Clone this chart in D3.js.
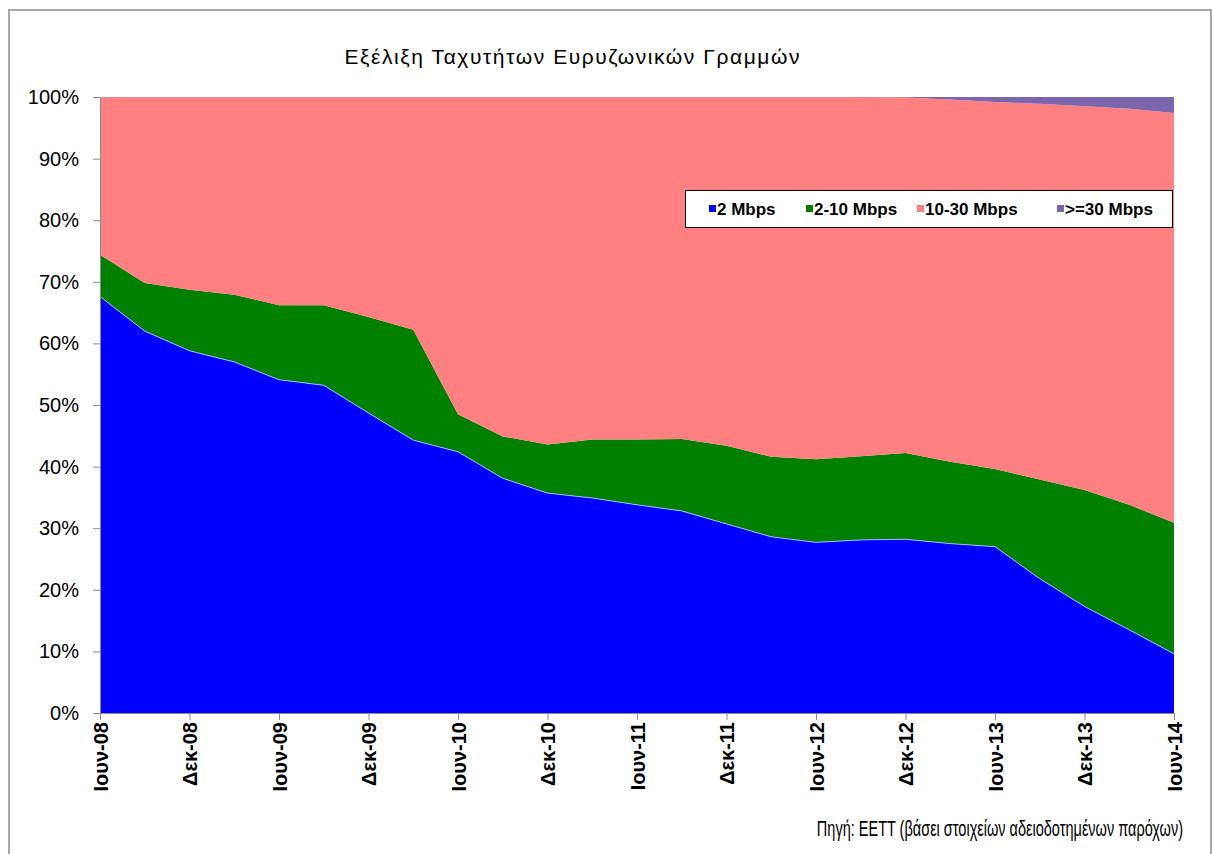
<!DOCTYPE html>
<html lang="el">
<head>
	<meta charset="utf-8">
	<title>Εξέλιξη Ταχυτήτων Ευρυζωνικών Γραμμών</title>
	<script src="https://d3js.org/d3.v7.min.js"></script>
	<style type="text/css">
		body {
			margin: 0;
			background-color: #fff;
		}
		svg {
			display: block;
		}
	</style>
</head>
<body>
	<script type="text/javascript">

		//Quarters (every second one gets a label on the axis)
		var quarters = ["Ιουν-08", "Σεπ-08", "Δεκ-08", "Μαρ-09", "Ιουν-09", "Σεπ-09", "Δεκ-09", "Μαρ-10",
			"Ιουν-10", "Σεπ-10", "Δεκ-10", "Μαρ-11", "Ιουν-11", "Σεπ-11", "Δεκ-11", "Μαρ-12",
			"Ιουν-12", "Σεπ-12", "Δεκ-12", "Μαρ-13", "Ιουν-13", "Σεπ-13", "Δεκ-13", "Μαρ-14", "Ιουν-14"];

		//Share of lines per speed class (%)
		var mbps2 = [67.6, 62.0, 58.8, 57.0, 54.1, 53.2, 48.7, 44.3, 42.4, 38.1, 35.7, 34.9, 33.8,
			32.8, 30.7, 28.6, 27.7, 28.1, 28.2, 27.5, 27.0, 21.8, 17.3, 13.5, 9.6];
		var mbps2to10 = [6.8, 7.8, 9.9, 10.9, 12.1, 13.0, 15.6, 17.9, 6.1, 6.8, 7.9, 9.5, 10.6,
			11.7, 12.7, 13.0, 13.5, 13.6, 14.0, 13.3, 12.6, 16.1, 18.9, 20.3, 21.3];
		var mbps10to30 = [25.6, 30.2, 31.3, 32.1, 33.8, 33.8, 35.7, 37.8, 51.5, 55.1, 56.4, 55.6, 55.6,
			55.5, 56.6, 58.4, 58.8, 58.3, 57.7, 58.8, 59.6, 61.0, 62.3, 64.3, 66.5];
		var mbps30plus = [0, 0, 0, 0, 0, 0, 0, 0, 0, 0, 0, 0, 0,
			0, 0, 0, 0, 0, 0.1, 0.4, 0.8, 1.1, 1.5, 1.9, 2.6];

		var seriesNames = ["2 Mbps", "2-10 Mbps", "10-30 Mbps", ">=30 Mbps"];
		var colors = ["#0000ff", "#008000", "#ff8080", "#7b66ad"];
		var yTicks = [0, 0.1, 0.2, 0.3, 0.4, 0.5, 0.6, 0.7, 0.8, 0.9, 1];

		//Width and height
		var w = 1212;
		var h = 854;
		var margin = { left: 100, right: 38, top: 97, bottom: 141 };

		var rows = quarters.map(function(q, i) {
			return { q: q, a: mbps2[i], b: mbps2to10[i], c: mbps10to30[i], d: mbps30plus[i] };
		});

		var stack = d3.stack()
			.keys(["a", "b", "c", "d"])
			.offset(d3.stackOffsetExpand);
		var layers = stack(rows);

		var x = d3.scalePoint()
			.domain(quarters)
			.range([margin.left, w - margin.right]);

		var y = d3.scaleLinear()
			.domain([0, 1])
			.range([h - margin.bottom, margin.top]);

		var svg = d3.select("body")
			.append("svg")
			.attr("width", w)
			.attr("height", h);

		//outer frame
		svg.append("path")
			.attr("d", "M9," + h + "V10H" + (w - 1) + "V" + h)
			.attr("fill", "none")
			.attr("stroke", "#a6a6a6")
			.attr("stroke-width", 2);

		//title
		svg.append("text")
			.attr("x", 572)
			.attr("y", 64)
			.attr("text-anchor", "middle")
			.attr("textLength", 455)
			.attr("lengthAdjust", "spacing")
			.style("font-family", "'Liberation Sans', Arial, sans-serif")
			.style("font-size", "21px")
			.text("Εξέλιξη Ταχυτήτων Ευρυζωνικών Γραμμών");

		var area = d3.area()
			.x(function(d) { return x(d.data.q); })
			.y0(function(d) { return y(d[0]); })
			.y1(function(d) { return y(d[1]); });

		svg.selectAll("path.layer")
			.data(layers)
			.enter()
			.append("path")
			.attr("class", "layer")
			.attr("d", area)
			.style("fill", function(d, i) { return colors[i]; });

		//thin light edge on top of the blue area
		svg.append("path")
			.datum(layers[0])
			.attr("d", d3.line()
				.x(function(d) { return x(d.data.q); })
				.y(function(d) { return y(d[1]); }))
			.attr("fill", "none")
			.attr("stroke", "#9fb8ff")
			.attr("stroke-width", 1);

		//Y axis
		var yAxis = svg.append("g")
			.attr("transform", "translate(" + margin.left + ",0)")
			.call(d3.axisLeft(y).tickValues(yTicks).tickSize(7).tickSizeOuter(0).tickPadding(14)
				.tickFormat(d3.format(".0%")));
		yAxis.selectAll("line, path").attr("stroke", "#8c8c8c");
		yAxis.selectAll("text")
			.style("font-family", "'Liberation Sans', Arial, sans-serif")
			.style("font-size", "20px")
			.attr("fill", "#000");

		//X axis, label every 6 months
		var xAxis = svg.append("g")
			.attr("transform", "translate(0," + (h - margin.bottom) + ")")
			.call(d3.axisBottom(x)
				.tickValues(quarters.filter(function(d, i) { return i % 2 === 0; }))
				.tickSize(7).tickSizeOuter(0));
		xAxis.selectAll("line, path").attr("stroke", "#8c8c8c");
		xAxis.selectAll("text")
			.attr("transform", "rotate(-90)")
			.attr("x", -9)
			.attr("y", 0)
			.attr("dy", "0.35em")
			.attr("text-anchor", "end")
			.style("font-family", "'Liberation Sans', Arial, sans-serif")
			.style("font-size", "20px")
			.style("font-weight", "bold")
			.attr("fill", "#000");

		//legend
		var legend = svg.append("g");
		legend.append("rect")
			.attr("x", 685.5)
			.attr("y", 190.5)
			.attr("width", 487)
			.attr("height", 37)
			.attr("fill", "#fff")
			.attr("stroke", "#000")
			.attr("stroke-width", 1);

		var legendX = [709, 806, 917, 1057];
		seriesNames.forEach(function(name, i) {
			legend.append("rect")
				.attr("x", legendX[i])
				.attr("y", 205)
				.attr("width", 7)
				.attr("height", 7)
				.attr("fill", colors[i]);
			legend.append("text")
				.attr("x", legendX[i] + 8)
				.attr("y", 215)
				.style("font-family", "'Liberation Sans', Arial, sans-serif")
				.style("font-size", "17px")
				.style("font-weight", "bold")
				.text(name);
		});

		//source note (squeezed like the narrow font in the original)
		svg.append("g")
			.attr("transform", "translate(1183,836) scale(0.66,1)")
			.append("text")
			.attr("text-anchor", "end")
			.style("font-family", "'Liberation Sans', Arial, sans-serif")
			.style("font-size", "22px")
			.text("Πηγή: ΕΕΤΤ (βάσει στοιχείων αδειοδοτημένων παρόχων)");

	</script>
</body>
</html>
